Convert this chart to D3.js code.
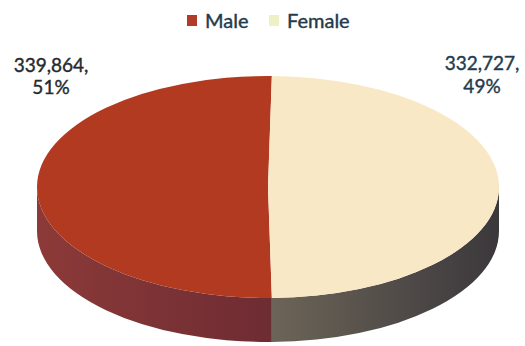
<!DOCTYPE html>
<html>
<head>
<meta charset="utf-8">
<script src="https://cdn.jsdelivr.net/npm/d3@7/dist/d3.min.js"></script>
<style>
  html, body { margin: 0; padding: 0; background: #fff; }
  svg { display: block; }
  text { font-family: Lato, "Open Sans", sans-serif; }
</style>
</head>
<body>
<svg id="chart" width="525" height="346"></svg>
<script>
// Population by sex
const categories = ["Male", "Female"];
const values = [339864, 332727];
const percentLabels = ["51%", "49%"];

const topColors = { Male: "#b13a21", Female: "#f9e8c6" };
const legendColors = { Male: "#b23a28", Female: "#eef0c6" };
const sideStops = {
  Male: ["#8c3a38", "#6e2c33"],
  Female: ["#6d6558", "#3b383c"]
};

const W = 525, H = 346;
const cx = 268, cy = 187, rx = 231, ry = 111, depth = 44;

const svg = d3.select("#chart");
const defs = svg.append("defs");

const data = categories.map((c, i) => ({ category: c, value: values[i], pct: percentLabels[i] }));
const total = d3.sum(values);
const maleShare = values[0] / total;

// Male slice is centred on the left so the split line stays upright.
const start = 1.5 * Math.PI - Math.PI * maleShare;
const pie = d3.pie().sort(null).value(d => d.value)
  .startAngle(start).endAngle(start + 2 * Math.PI);
const arcs = pie(data);

const arcGen = d3.arc().innerRadius(0).outerRadius(rx);

const pt = (a, dy) => [cx + rx * Math.sin(a), cy - ry * Math.cos(a) + dy];

// side gradients
data.forEach(d => {
  const g = defs.append("linearGradient")
    .attr("id", "side-" + d.category)
    .attr("gradientUnits", "userSpaceOnUse")
    .attr("x1", d.category === "Male" ? cx - rx : cx)
    .attr("x2", d.category === "Male" ? cx : cx + rx)
    .attr("y1", 0).attr("y2", 0);
  g.append("stop").attr("offset", "0%").attr("stop-color", sideStops[d.category][0]);
  g.append("stop").attr("offset", "100%").attr("stop-color", sideStops[d.category][1]);
});

// Visible (front) part of the rim for a slice
function sidePath(a0, a1) {
  const windows = [[Math.PI / 2, 1.5 * Math.PI], [2.5 * Math.PI, 3.5 * Math.PI]];
  let p = "";
  windows.forEach(([w0, w1]) => {
    const s = Math.max(a0, w0), e = Math.min(a1, w1);
    if (e <= s) return;
    const t0 = pt(s, 0), t1 = pt(e, 0), b1 = pt(e, depth), b0 = pt(s, depth);
    const large = (e - s) > Math.PI ? 1 : 0;
    p += `M${t0}A${rx},${ry} 0 ${large} 1 ${t1}L${b1}A${rx},${ry} 0 ${large} 0 ${b0}Z`;
  });
  return p;
}

const sides = svg.append("g").attr("class", "sides");
arcs.forEach(a => {
  sides.append("path")
    .attr("d", sidePath(a.startAngle, a.endAngle))
    .attr("fill", `url(#side-${a.data.category})`);
});

const tops = svg.append("g")
  .attr("transform", `translate(${cx},${cy}) scale(1,${ry / rx})`);
tops.selectAll("path")
  .data(arcs)
  .join("path")
  .attr("d", arcGen)
  .attr("fill", d => topColors[d.data.category]);

// legend
const legend = svg.append("g").attr("class", "legend");
const legendX = [187, 269];
data.forEach((d, i) => {
  const g = legend.append("g").attr("transform", `translate(${legendX[i]},0)`);
  g.append("rect").attr("x", 0).attr("y", 15).attr("width", 10).attr("height", 11)
    .attr("fill", legendColors[d.category]);
  g.append("text").attr("x", 18).attr("y", 28)
    .attr("font-size", 20).attr("fill", "#233b4d")
    .attr("stroke", "#233b4d").attr("stroke-width", 0.4)
    .text(d.category);
});

// data labels
const labelPos = [
  { x: 51, y1: 72, y2: 94, color: "#262a2e" },
  { x: 482, y1: 70, y2: 93, color: "#233b4d" }
];
data.forEach((d, i) => {
  const t = svg.append("text")
    .attr("text-anchor", "middle")
    .attr("font-size", 19)
    .attr("fill", labelPos[i].color)
    .attr("stroke", labelPos[i].color).attr("stroke-width", 0.4);
  t.append("tspan").attr("x", labelPos[i].x).attr("y", labelPos[i].y1)
    .text(d3.format(",")(d.value) + ",");
  t.append("tspan").attr("x", labelPos[i].x).attr("y", labelPos[i].y2)
    .text(d.pct);
});
</script>
</body>
</html>
